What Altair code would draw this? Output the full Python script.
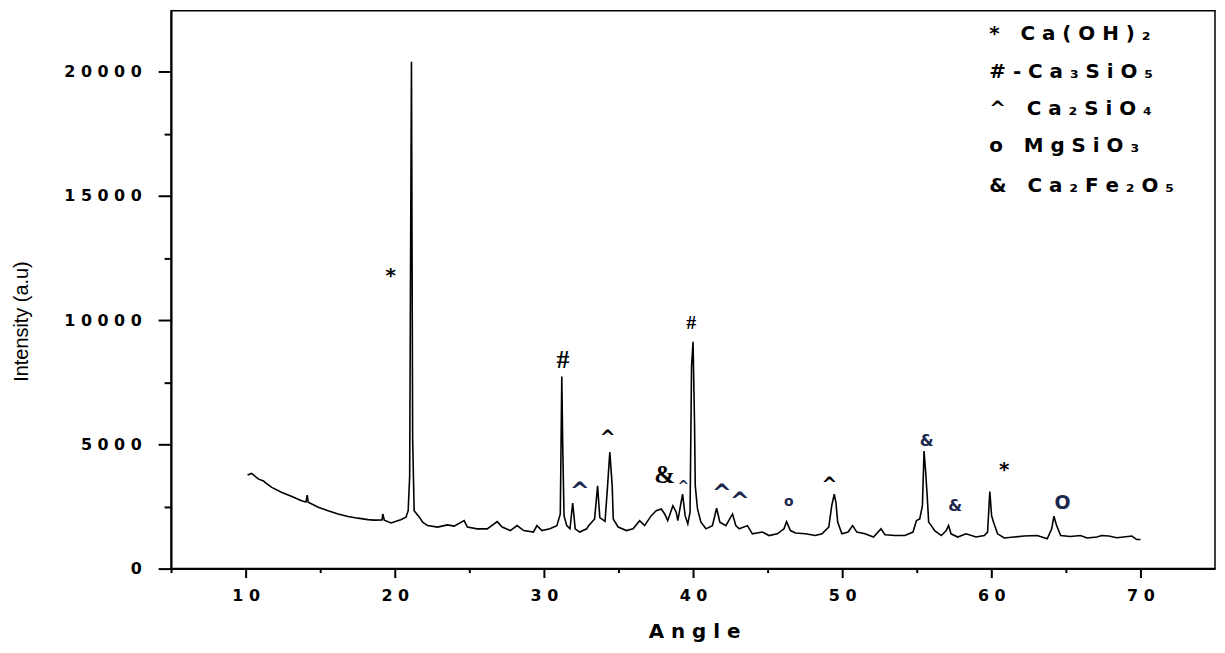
import altair as alt
import pandas as pd

# ---- XRD pattern (2-theta angle vs intensity) ----
angle = [10.13, 10.40, 10.87, 11.20, 11.30, 11.75, 12.40, 13.10, 13.75, 14.05, 14.13, 14.20,
         14.87, 15.53, 16.20, 16.87, 17.53, 18.20, 18.60, 19.15, 19.20, 19.30, 19.75, 20.40,
         20.75, 20.90, 21.00, 21.05, 21.12, 21.20, 21.30, 21.65, 21.87, 22.20, 22.87, 23.53,
         23.98, 24.65, 24.87, 25.53, 26.20, 26.87, 27.20, 27.75, 28.20, 28.65, 29.30, 29.53,
         29.87, 30.40, 30.87, 31.10, 31.20, 31.27, 31.35, 31.53, 31.75, 31.93, 32.10, 32.40,
         32.87, 33.00, 33.40, 33.60, 33.75, 34.10, 34.27, 34.42, 34.58, 34.65, 34.98, 35.53,
         35.98, 36.42, 36.75, 37.20, 37.53, 37.87, 38.10, 38.30, 38.65, 38.87, 38.98, 39.20,
         39.30, 39.47, 39.65, 39.80, 39.90, 40.00, 40.10, 40.15, 40.30, 40.53, 40.87, 41.30,
         41.58, 41.80, 42.20, 42.65, 42.87, 43.10, 43.65, 43.98, 44.65, 45.10, 45.65, 46.10,
         46.27, 46.53, 46.87, 47.53, 48.20, 48.65, 49.10, 49.30, 49.47, 49.58, 49.70, 49.98,
         50.40, 50.70, 50.98, 51.53, 52.10, 52.60, 52.87, 53.53, 54.20, 54.75, 54.98, 55.20,
         55.38, 55.49, 55.60, 55.70, 55.80, 55.98, 56.20, 56.65, 56.98, 57.13, 57.30, 57.75,
         58.30, 58.98, 59.53, 59.75, 59.90, 60.02, 60.15, 60.42, 60.87, 61.53, 62.20, 63.08,
         63.75, 64.05, 64.20, 64.38, 64.65, 65.30, 65.98, 66.42, 67.08, 67.40, 67.87, 68.42,
         68.87, 69.42, 69.75, 70.00]
intensity = [3770, 3830, 3600, 3530, 3470, 3270, 3070, 2900, 2730, 2680, 2960, 2670,
             2470, 2330, 2200, 2100, 2030, 1970, 1950, 1960, 2200, 1950, 1840, 1970,
             2070, 2330, 3730, 11000, 20400, 5200, 2330, 2070, 1870, 1730, 1670, 1760,
             1710, 1930, 1670, 1600, 1600, 1890, 1670, 1530, 1730, 1530, 1470, 1730,
             1530, 1600, 1730, 2200, 7730, 4670, 2130, 1730, 1600, 2640, 1600, 1470,
             1600, 1730, 2000, 3330, 2050, 1900, 3330, 4690, 3330, 2000, 1670, 1530,
             1600, 1930, 1730, 2130, 2330, 2400, 2200, 1930, 2530, 2270, 1930, 2670,
             3000, 2130, 1800, 2270, 8130, 9130, 5870, 3330, 2400, 1870, 1600, 1730,
             2430, 1870, 1730, 2200, 1730, 1600, 1730, 1400, 1470, 1330, 1400, 1600,
             1890, 1530, 1430, 1400, 1330, 1400, 1670, 2530, 3000, 2670, 1870, 1400,
             1470, 1730, 1470, 1400, 1270, 1600, 1360, 1330, 1330, 1470, 1930, 2000,
             2530, 4730, 3870, 2930, 1870, 1730, 1530, 1330, 1530, 1730, 1400, 1270,
             1400, 1270, 1330, 1470, 3100, 2130, 1870, 1400, 1230, 1270, 1310, 1330,
             1200, 1600, 2110, 1730, 1330, 1290, 1330, 1230, 1270, 1330, 1310, 1240,
             1270, 1310, 1170, 1170]

# ---- peak markers ----
ann_angle = [19.73, 31.27, 32.40, 34.27, 38.10, 39.35, 39.87, 41.93, 43.13, 46.42,
             49.15, 55.67, 57.58, 60.87, 64.78]
ann_intensity = [11780, 8400, 3070, 5250, 3760, 3270, 9870, 3000, 2670, 2670,
                 3380, 5120, 2530, 3950, 2650]
ann_symbol = ["*", "#", "^", "^", "&", "^", "#", "^", "^", "o",
              "^", "&", "&", "*", "O"]
ann_fontsize = [20, 26, 24, 19, 25, 14, 20, 24, 24, 14,
                19, 16, 16, 20, 19]
ann_style = ["black", "serif", "navy", "black", "serif", "navy", "serif", "navy", "navy", "navy",
             "black", "navy", "navy", "black", "navy"]

# ---- phase key (top right) ----
key_text = ["* Ca(OH)₂", "#-Ca₃SiO₅", "^ Ca₂SiO₄", "o MgSiO₃", "& Ca₂Fe₂O₅"]
key_angle = [59.87, 59.87, 59.87, 59.87, 59.87]
key_intensity = [21520, 20000, 18480, 17000, 15400]

# ---- axes ----
x_major = [10, 20, 30, 40, 50, 60, 70]
x_minor = [5, 15, 25, 35, 45, 55, 65]
y_major = [0, 5000, 10000, 15000, 20000]
y_minor = [2500, 7500, 12500, 17500]
X_DOMAIN = [5, 75]
Y_DOMAIN = [0, 22450]

xrd = pd.DataFrame({"angle": angle, "intensity": intensity})
ann = pd.DataFrame({"angle": ann_angle, "intensity": ann_intensity, "symbol": ann_symbol,
                    "fs": ann_fontsize, "style": ann_style})
key = pd.DataFrame({"angle": key_angle, "intensity": key_intensity, "label": key_text})

x_scale = alt.Scale(domain=X_DOMAIN, nice=False, zero=False)
y_scale = alt.Scale(domain=Y_DOMAIN, nice=False, zero=False)

spaced = "join(split(datum.label, ''), ' ')"

ax_x_major = alt.Axis(
    orient="bottom", values=x_major, format="d", labelExpr=spaced,
    tickSize=9, tickWidth=2, tickColor="black",
    domainColor="black", domainWidth=2, grid=False,
    labelFont="DejaVu Sans", labelFontWeight="bold", labelFontSize=16, labelColor="black",
    labelPadding=10, labelFlush=False, labelOverlap=False,
    title="A n g l e", titleFont="DejaVu Sans", titleFontWeight="bold", titleFontSize=20,
    titleColor="black", titleX=526, titleY=69, titleAlign="center", titleBaseline="alphabetic",
)
ax_y_major = alt.Axis(
    orient="left", values=y_major, format="d", labelExpr=spaced,
    tickSize=13, tickWidth=2, tickColor="black",
    domainColor="black", domainWidth=2, grid=False,
    labelFont="DejaVu Sans", labelFontWeight="bold", labelFontSize=16, labelColor="black",
    labelPadding=17, labelFlush=False, labelOverlap=False,
    title="Intensity (a.u)", titleFont="Liberation Sans", titleFontWeight="normal",
    titleFontSize=20, titleColor="black", titleX=-150, titleY=312, titleAngle=270,
    titleAlign="center", titleBaseline="middle",
)
ax_x_minor = alt.Axis(orient="bottom", values=x_minor, tickSize=4, tickWidth=2, tickColor="black",
                      labels=False, domain=False, grid=False, title=None)
ax_y_minor = alt.Axis(orient="left", values=y_minor, tickSize=7, tickWidth=2, tickColor="black",
                      labels=False, domain=False, grid=False, title=None)

line = alt.Chart(xrd).mark_line(color="black", strokeWidth=1.6).encode(
    x=alt.X("angle:Q", scale=x_scale, axis=ax_x_major),
    y=alt.Y("intensity:Q", scale=y_scale, axis=ax_y_major),
)

marks_serif = alt.Chart(ann).transform_filter(alt.datum.style == "serif").mark_text(
    font="Liberation Serif", fontWeight="bold", color="black", align="center", baseline="middle"
).encode(
    x=alt.X("angle:Q", scale=x_scale, axis=ax_x_minor),
    y=alt.Y("intensity:Q", scale=y_scale, axis=ax_y_minor),
    text="symbol:N",
    size=alt.Size("fs:Q", scale=None, legend=None),
)

marks_black = alt.Chart(ann).transform_filter(alt.datum.style == "black").mark_text(
    font="DejaVu Sans", fontWeight="bold", color="black", align="center", baseline="middle"
).encode(
    x=alt.X("angle:Q", scale=x_scale, axis=None),
    y=alt.Y("intensity:Q", scale=y_scale, axis=None),
    text="symbol:N",
    size=alt.Size("fs:Q", scale=None, legend=None),
)

marks_navy = alt.Chart(ann).transform_filter(alt.datum.style == "navy").mark_text(
    font="DejaVu Sans", fontWeight="bold", color="#1c2750", align="center", baseline="middle"
).encode(
    x=alt.X("angle:Q", scale=x_scale, axis=None),
    y=alt.Y("intensity:Q", scale=y_scale, axis=None),
    text="symbol:N",
    size=alt.Size("fs:Q", scale=None, legend=None),
)

# wide letter spacing like the original key (non-breaking spaces are not collapsed)
key_layer = alt.Chart(key).transform_calculate(
    shown="join(split(datum.label, ''), '\u00a0')"
).mark_text(
    font="DejaVu Sans", fontWeight="bold", fontSize=20, color="black", align="left", baseline="middle"
).encode(
    x=alt.X("angle:Q", scale=x_scale, axis=None),
    y=alt.Y("intensity:Q", scale=y_scale, axis=None),
    text="shown:N",
)

chart = alt.layer(line, marks_serif, marks_black, marks_navy, key_layer).resolve_axis(
    x="independent", y="independent"
).properties(
    width=1050, height=561,
    autosize=alt.AutoSizeParams(type="none"),
    padding={"left": 164, "top": 1, "right": 2, "bottom": 74},
    background="white",
).configure_view(stroke="black", strokeWidth=1.5)

chart.save("out.html", embed_options={"renderer": "svg", "actions": False})
